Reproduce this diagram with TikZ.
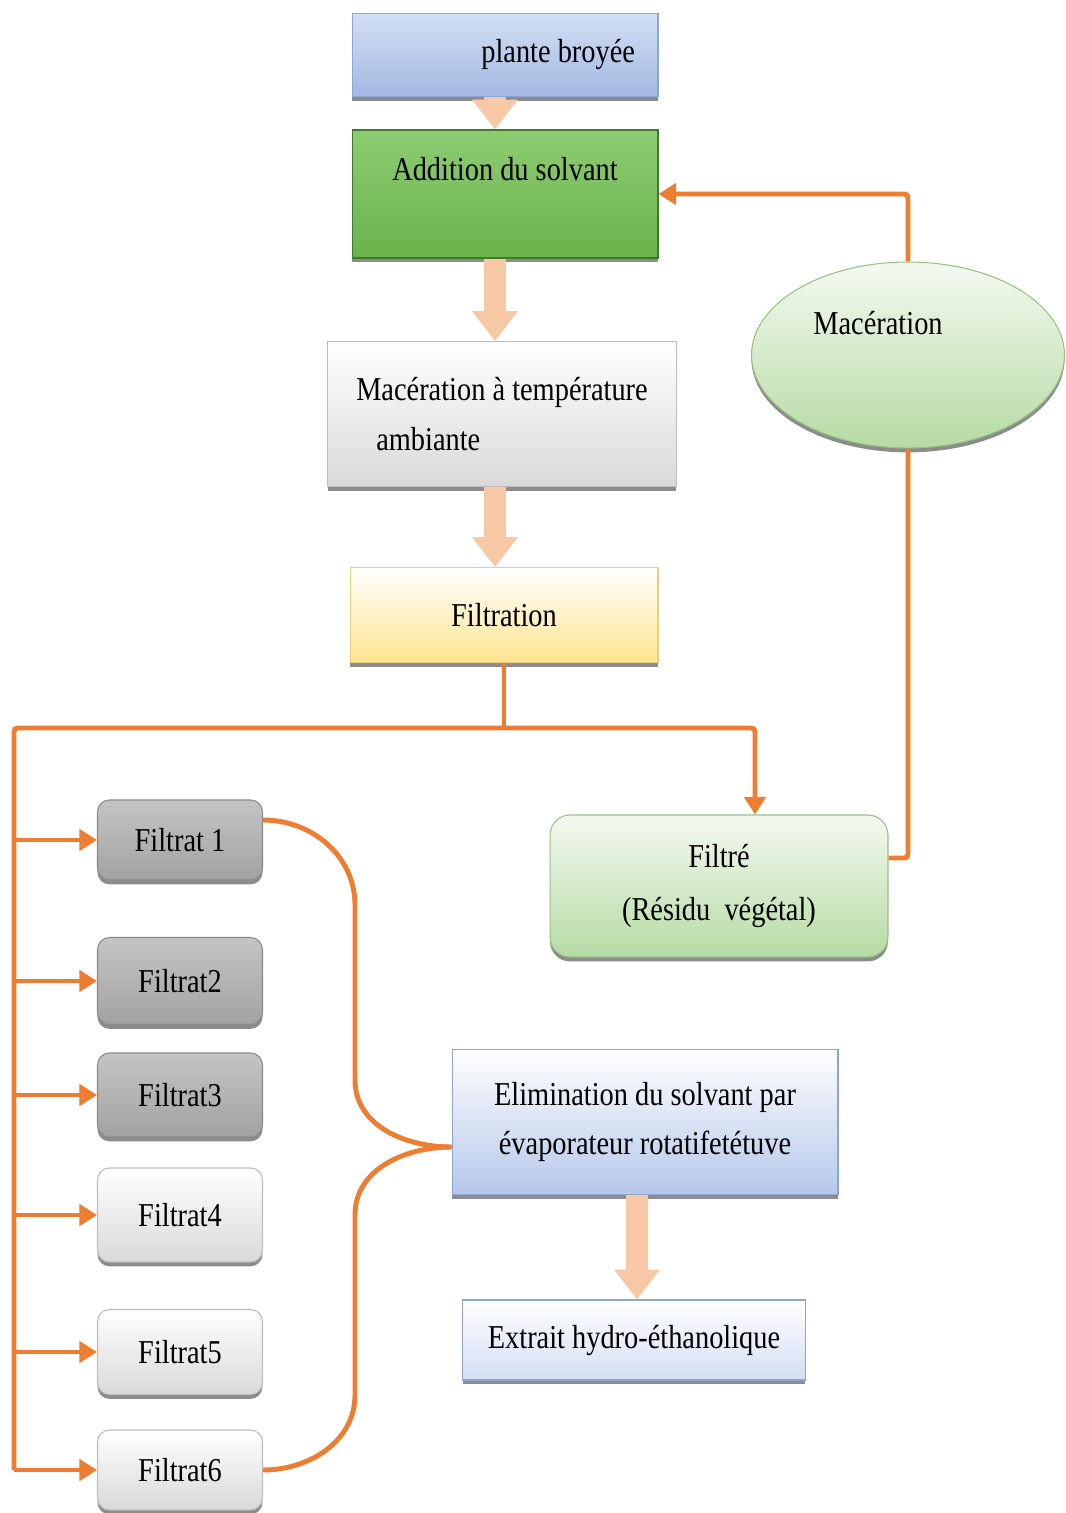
\documentclass[tikz,border=0pt]{standalone}
\usepackage{fontspec}
\setmainfont[FakeStretch=0.85]{Liberation Serif}
\usepackage{tikz}
\usetikzlibrary{arrows.meta,calc,positioning,shapes.geometric,shadows}
\definecolor{FlowOrange}{HTML}{ED7D31}
\definecolor{FlowPeach}{HTML}{F7C8A6}
\definecolor{FlowBlueTop}{HTML}{D3DEF3}
\definecolor{FlowBlueBot}{HTML}{A2B9E4}
\definecolor{FlowBlueLine}{HTML}{8CA5D3}
\definecolor{FlowGreenTop}{HTML}{8ECC72}
\definecolor{FlowGreenBot}{HTML}{68B34B}
\definecolor{FlowGreenLine}{HTML}{3E7A2A}
\definecolor{FlowPaleTop}{HTML}{F4F9F1}
\definecolor{FlowPaleBot}{HTML}{B6DBA4}
\definecolor{FlowPaleLine}{HTML}{95C283}
\definecolor{FlowGrayTop}{HTML}{C4C4C4}
\definecolor{FlowGrayBot}{HTML}{A2A2A2}
\definecolor{FlowGrayLine}{HTML}{8A8A8A}
\definecolor{FlowLightBot}{HTML}{D9D9D9}
\definecolor{FlowLightLine}{HTML}{BDBDBD}
\definecolor{FlowYellowBot}{HTML}{FCE48E}
\definecolor{FlowYellowLine}{HTML}{E9CF78}

\begin{document}
\begin{tikzpicture}[x=0.02cm,y=-0.02cm,
    every node/.style={font=\fontsize{19pt}{28pt}\selectfont},
    procbox/.style={rectangle,inner sep=0pt,line width=0.6pt,
      drop shadow={shadow xshift=0pt,shadow yshift=-2.5pt,fill=black,opacity=0.45}},
    filtbox/.style={procbox,rounded corners=0.24cm,minimum width=3.3cm},
    darkfilt/.style={filtbox,top color=FlowGrayTop,bottom color=FlowGrayBot,draw=FlowGrayLine},
    lightfilt/.style={filtbox,top color=white,bottom color=FlowLightBot,draw=FlowLightLine},
    orline/.style={draw=FlowOrange,line width=2.8pt},
    ortip/.style={-{Triangle[length=10pt,width=12pt]}},
    fatarrow/.style={draw=FlowPeach,line width=12pt,-{Triangle[length=17pt,width=25pt]}}]
  \useasboundingbox (0,0) rectangle (1065,1513);

  % main column
  \node[procbox,top color=FlowBlueTop,bottom color=FlowBlueBot,draw=FlowBlueLine,
    minimum width=6.12cm,minimum height=1.66cm,text width=5.2cm,align=flush right]
    (plante) at (505,55) {plante broyée};
  \node[procbox,top color=FlowGreenTop,bottom color=FlowGreenBot,draw=FlowGreenLine,
    minimum width=6.12cm,minimum height=2.56cm,align=center]
    (solvant) at (505,194) {Addition du solvant\\[-8pt]\strut};
  \node[procbox,top color=white,bottom color=FlowLightBot,draw=FlowLightLine,
    minimum width=6.98cm,minimum height=2.9cm,align=left]
    (macamb) at (502,414) {Macération à température\\\hspace*{0.4cm}ambiante};
  \node[procbox,top color=white,bottom color=FlowYellowBot,draw=FlowYellowLine,
    minimum width=6.16cm,minimum height=1.9cm]
    (filtration) at (504,615) {Filtration};

  % recycling of the residue
  \node[procbox,ellipse,top color=FlowPaleTop,bottom color=FlowPaleBot,draw=FlowPaleLine,
    minimum width=6.26cm,minimum height=3.72cm,align=center]
    (macer) at (908,355) {Macération\hspace*{1.2cm}\\\strut};
  \node[procbox,rounded corners=0.4cm,top color=FlowPaleTop,bottom color=FlowPaleBot,
    draw=FlowPaleLine,minimum width=6.76cm,minimum height=2.84cm,align=center]
    (residu) at (719,886) {Filtré\\[2pt](Résidu\ \ végétal)};

  % filtrates
  \node[darkfilt,minimum height=1.6cm] (f1) at (180,840) {Filtrat 1};
  \node[darkfilt,minimum height=1.74cm] (f2) at (180,981) {Filtrat2};
  \node[darkfilt,minimum height=1.68cm] (f3) at (180,1095) {Filtrat3};
  \node[lightfilt,minimum height=1.88cm] (f4) at (180,1215) {Filtrat4};
  \node[lightfilt,minimum height=1.7cm] (f5) at (180,1352) {Filtrat5};
  \node[lightfilt,minimum height=1.6cm] (f6) at (180,1470) {Filtrat6};

  \node[procbox,top color=white,bottom color=FlowBlueBot!80,draw=FlowBlueLine,
    minimum width=7.72cm,minimum height=2.9cm,align=center]
    (elim) at (645,1122) {Elimination du solvant par\\évaporateur rotatifetétuve};
  \node[procbox,top color=white,bottom color=FlowBlueTop,draw=FlowBlueLine,
    minimum width=6.86cm,minimum height=1.6cm]
    (extrait) at (634,1340) {Extrait hydro-éthanolique};

  % wide arrows
  \draw[fatarrow] ([xshift=-0.2cm]plante.south) -- ([xshift=-0.2cm]solvant.north);
  \draw[fatarrow] ([xshift=-0.2cm]solvant.south) -- ([xshift=-0.2cm]solvant.south |- macamb.north);
  \draw[fatarrow] ([xshift=-0.2cm]solvant.south |- macamb.south)
    -- ([xshift=-0.2cm]solvant.south |- filtration.north);
  \draw[fatarrow] ([xshift=-0.16cm]elim.south) -- ([xshift=-0.16cm]elim.south |- extrait.north);

  % orange connectors
  \coordinate (rail) at (14,728);
  \coordinate (bx) at (355,0);
  \coordinate (tip) at ([yshift=-0.5cm]elim.west);
  \draw[orline] (filtration.south) -- (filtration.south |- rail);
  \draw[orline,ortip,rounded corners=2pt] (rail |- f6.west) -- (rail)
    -| ([xshift=0.72cm]residu.north);
  \foreach \i in {1,...,6}
    \draw[orline,ortip] (rail |- f\i.west) -- (f\i.west);
  \draw[orline,rounded corners=2pt] ([yshift=0.56cm]residu.east) -| (macer.south);
  \draw[orline,ortip,rounded corners=2pt] (macer.north) |- (solvant.east);

  % brace towards the evaporation step
  \draw[orline] ([yshift=0.4cm]f1.east) to[out=0,in=90] ([yshift=-1.3cm]bx |- f1.east)
    -- ([yshift=1.34cm]bx |- tip) to[out=-90,in=180] (tip);
  \draw[orline] (f6.east) to[out=0,in=-90] ([yshift=1.5cm]bx |- f6.east)
    -- ([yshift=-1.36cm]bx |- tip) to[out=90,in=180] (tip);
\end{tikzpicture}
\end{document}
